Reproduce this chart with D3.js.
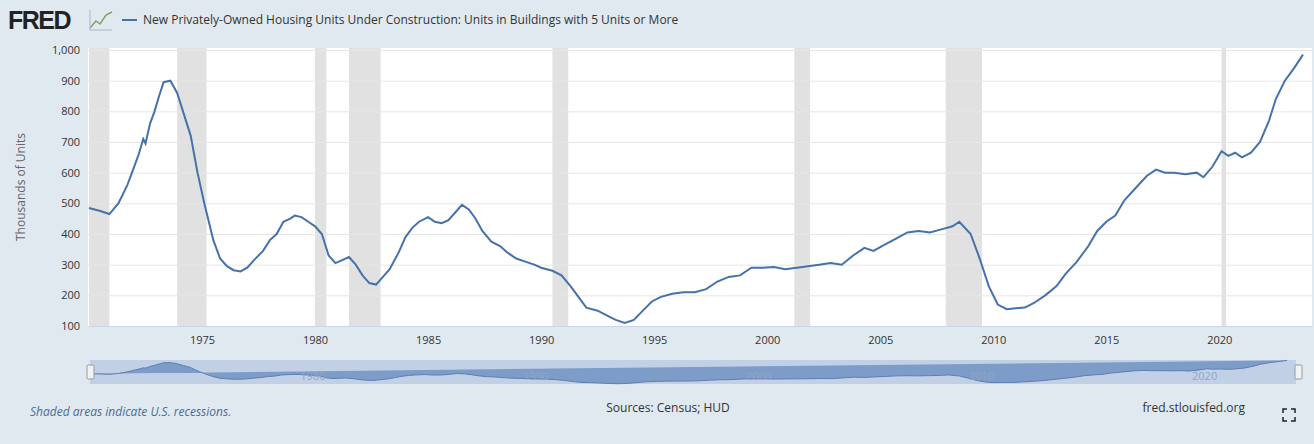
<!DOCTYPE html>
<html><head><meta charset="utf-8">
<script src="https://cdn.jsdelivr.net/npm/d3@7"></script>
<style>body{margin:0;background:#e1e9f0;font-family:"Open Sans",sans-serif;}</style>
</head><body>
<svg id="c" width="1314" height="444"></svg>
<script>
var years = [1970.0,1970.5,1970.9,1971.3,1971.7,1972.0,1972.2,1972.4,1972.5,1972.7,
  1972.9,1973.1,1973.3,1973.6,1973.9,1974.2,1974.5,1974.8,1975.1,1975.5,
  1975.8,1976.1,1976.4,1976.7,1977.0,1977.3,1977.7,1978.0,1978.3,1978.6,1978.9,
  1979.1,1979.4,1979.7,1980.0,1980.3,1980.6,1980.9,1981.2,1981.5,1981.8,1982.1,1982.4,1982.7,1983.0,1983.3,1983.7,1984.0,1984.3,1984.6,1985.0,1985.3,1985.6,1985.9,1986.2,1986.5,1986.8,1987.1,1987.4,1987.8,1988.2,1988.5,1988.9,1989.3,1989.7,1990.0,1990.5,1990.9,1991.3,1991.7,1992.0,1992.5,1992.9,1993.3,1993.7,1994.1,1994.5,1994.9,1995.3,1995.8,1996.3,1996.8,1997.3,1997.8,1998.3,1998.8,1999.3,1999.8,2000.3,2000.8,2001.3,2001.8,2002.3,2002.8,2003.3,2003.8,2004.3,2004.7,2005.2,2005.7,2006.2,2006.7,2007.2,2007.7,2008.2,2008.5,2009.0,2009.4,2009.8,2010.2,2010.6,2011.0,2011.4,2011.8,2012.3,2012.8,2013.2,2013.7,2014.2,2014.6,2015.0,2015.4,2015.8,2016.3,2016.8,2017.2,2017.6,2018.0,2018.5,2019.0,2019.3,2019.7,2020.1,2020.4,2020.7,2021.0,2021.4,2021.8,2022.2,2022.5,2022.9,2023.3,2023.7,2024.05];
var units = [485,475,465,500,560,620,660,710,695,760,
  800,850,895,900,860,790,720,600,500,380,
  320,295,282,278,290,315,345,380,400,440,450,
  460,455,440,425,400,330,305,315,325,300,265,240,235,260,285,340,390,420,440,455,440,435,445,470,495,480,450,410,375,360,340,320,310,300,290,280,265,230,190,160,150,135,120,110,120,150,180,195,205,210,210,220,245,260,265,290,290,292,285,290,295,300,305,300,330,355,345,365,385,405,410,405,415,425,440,400,320,230,170,155,158,160,175,200,230,270,310,360,410,440,460,510,550,590,610,600,600,595,600,585,620,670,655,665,650,665,700,770,840,900,940,985];
var recessions = [[1969.9,1970.9],[1973.9,1975.2],[1980.0,1980.5],[1981.5,1982.9],[1990.5,1991.2],[2001.2,2001.9],[2007.9,2009.5],[2020.1,2020.3]];
var yTicks = [100,200,300,400,500,600,700,800,900,1000];
var xTicks = [1975,1980,1985,1990,1995,2000,2005,2010,2015,2020];

var svg = d3.select("#c");
var data = years.map(function (d, i) { return { t: d, v: units[i] }; });

var x = d3.scaleLinear().domain([1970, 2024.1]).range([89, 1312]);
var y = d3.scaleLinear().domain([100, 1000]).range([326, 50]);

svg.append("rect").attr("x", 88).attr("y", 48).attr("width", 1224).attr("height", 278).attr("fill", "#fff");
svg.append("g").selectAll("rect").data(recessions).enter().append("rect")
  .attr("x", function (d) { return x(Math.max(d[0], 1970)); })
  .attr("width", function (d) { return x(d[1]) - x(Math.max(d[0], 1970)); })
  .attr("y", 48).attr("height", 278).attr("fill", "#e1e1e1");

var ya = svg.append("g").attr("transform", "translate(88,0)")
  .call(d3.axisLeft(y).tickValues(yTicks).tickSize(-1224).tickFormat(d3.format(",")));
ya.select(".domain").remove();
ya.selectAll("line").attr("stroke", "#e6e6e6");
ya.selectAll("text").attr("x", -8).attr("fill", "#333").style("font-size", "11px").style("font-family", "Open Sans");

var xa = svg.append("g").attr("transform", "translate(0,326)")
  .call(d3.axisBottom(x).tickValues(xTicks).tickSize(0).tickFormat(d3.format("d")));
xa.select(".domain").attr("stroke", "#ccd6eb");
xa.selectAll("text").attr("y", 10).attr("fill", "#333").style("font-size", "11px").style("font-family", "Open Sans");

svg.append("path").datum(data).attr("fill", "none").attr("stroke", "#4572a7").attr("stroke-width", 2)
  .attr("d", d3.line().x(function (d) { return x(d.t); }).y(function (d) { return y(d.v); }));

svg.append("text").attr("transform", "translate(25,187) rotate(-90)").attr("text-anchor", "middle")
  .style("font-size", "12px").attr("fill", "#666").text("Thousands of Units");

// navigator
var xn = d3.scaleLinear().domain([1970, 2024.1]).range([90, 1296]);
var yn = d3.scaleLinear().domain([100, 1000]).range([384, 360]);
svg.append("rect").attr("x", 90).attr("y", 360).attr("width", 1206).attr("height", 24).attr("fill", "#c2d0e6");
svg.append("path").datum(data).attr("fill", "#7d9cc8").attr("stroke", "#5b7fb5")
  .attr("d", d3.area().x(function (d) { return xn(d.t); }).y0(384).y1(function (d) { return yn(d.v); }));
svg.append("g").selectAll("text").data([1980, 1990, 2000, 2010, 2020]).enter().append("text")
  .attr("x", function (d) { return xn(d); }).attr("y", 380).attr("text-anchor", "middle")
  .style("font-size", "11px").attr("fill", "#8fa6c6").text(function (d) { return d; });
[88, 1296].forEach(function (hx) {
  svg.append("rect").attr("x", hx - 1).attr("y", 365).attr("width", 7).attr("height", 14).attr("rx", 1)
    .attr("fill", "#f2f2f2").attr("stroke", "#999");
});

// header
svg.append("text").attr("x", 8).attr("y", 29).style("font-size", "25px").style("font-weight", "bold")
  .style("font-family", "Liberation Sans").style("letter-spacing", "-1.5px").attr("fill", "#222").text("FRED");
svg.append("path").attr("d", "M90,28 L96,21 L100,24 L106,15 L112,12").attr("fill", "none").attr("stroke", "#7ea55c").attr("stroke-width", 1.5);
svg.append("path").attr("d", "M90,30 L112,30 M90,30 L90,10").attr("fill", "none").attr("stroke", "#aab8c4").attr("stroke-width", 1);
svg.append("line").attr("x1", 122).attr("x2", 137).attr("y1", 20).attr("y2", 20).attr("stroke", "#4572a7").attr("stroke-width", 2);
svg.append("text").attr("x", 143).attr("y", 24).style("font-size", "12px").attr("fill", "#333")
  .text("New Privately-Owned Housing Units Under Construction: Units in Buildings with 5 Units or More");

// footer
svg.append("text").attr("x", 30).attr("y", 416).style("font-size", "12px").style("font-style", "italic").attr("fill", "#4a6b94").text("Shaded areas indicate U.S. recessions.");
svg.append("text").attr("x", 668).attr("y", 412).attr("text-anchor", "middle").style("font-size", "12px").attr("fill", "#333").text("Sources: Census; HUD");
svg.append("text").attr("x", 1245).attr("y", 412).attr("text-anchor", "end").style("font-size", "12px").attr("fill", "#333").text("fred.stlouisfed.org");
svg.append("path").attr("d", "M1283,413v-4h4 M1291,409h4v4 M1283,417v4h4 M1291,421h4v-4").attr("fill", "none").attr("stroke", "#222").attr("stroke-width", 1.5);
</script>
</body></html>
